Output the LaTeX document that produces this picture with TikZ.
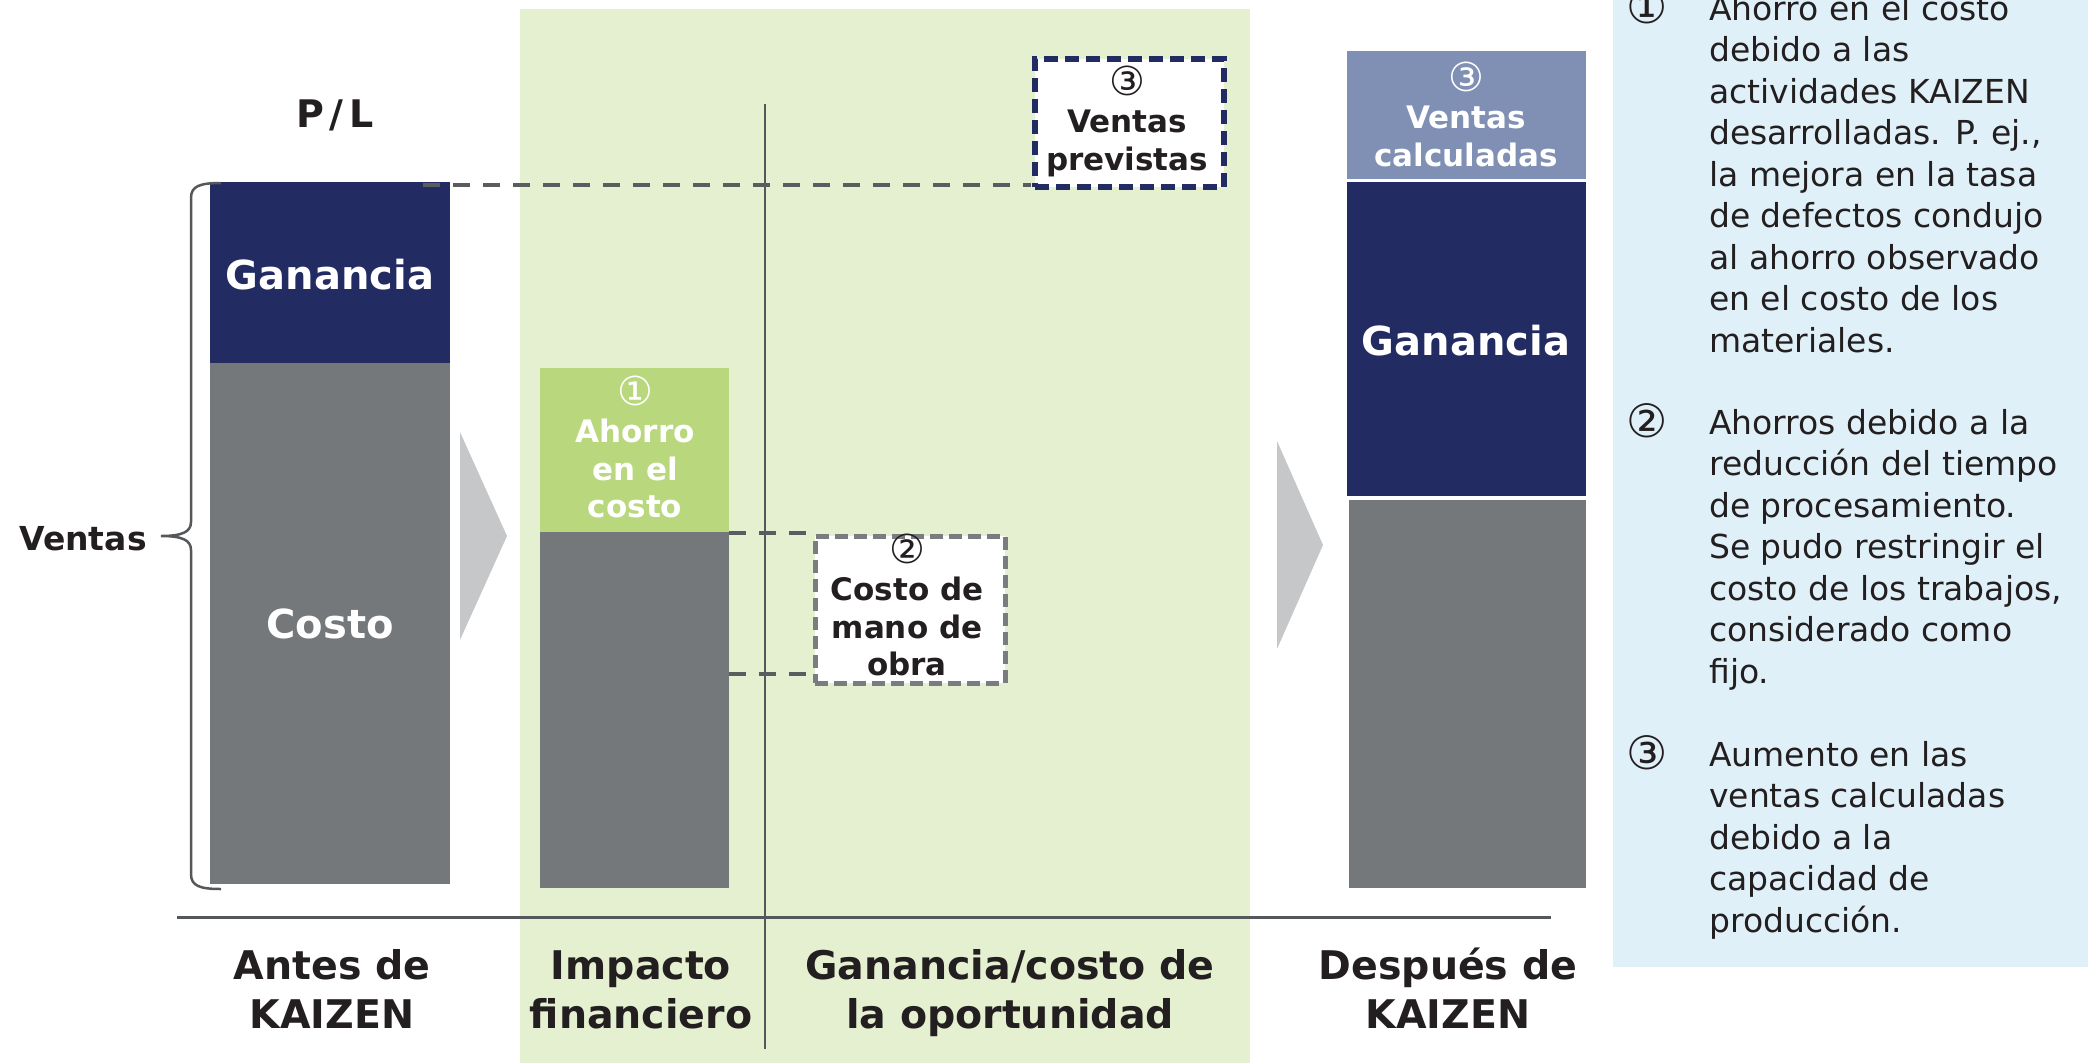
\documentclass[tikz,border=0pt]{standalone}
\usepackage{fontspec}
\setmainfont{DejaVu Sans}
\newfontfamily\circfont{DejaVu Sans}
\newcommand\cnum[1]{{\circfont\mdseries\fontsize{40}{37.5}\selectfont #1}}
\newcommand\ncirc[1]{{\circfont\mdseries\fontsize{46}{41.5}\selectfont\raisebox{-3pt}{#1}}}
\newcommand\mytl[1]{\begin{tabular}[t]{@{}l@{}}#1\end{tabular}}
\newcommand\mytc[1]{\begin{tabular}[t]{@{}c@{}}#1\end{tabular}}
\definecolor{navy}{HTML}{222B62}
\definecolor{bargray}{HTML}{75787A}
\definecolor{lgreen}{HTML}{E5F0D0}
\definecolor{mgreen}{HTML}{B9D87E}
\definecolor{lblue}{HTML}{7F90B4}
\definecolor{panel}{HTML}{E0F0F8}
\definecolor{arrowgray}{HTML}{C6C7C9}
\definecolor{dashgray}{HTML}{5A5D60}
\definecolor{boxgray}{HTML}{7A7D80}
\definecolor{axisgray}{HTML}{55585B}
\definecolor{ink}{HTML}{231F20}
\begin{document}
\begin{tikzpicture}[x=1pt,y=-1pt,
  lbl/.style={font=\bfseries\fontsize{31}{37.5}\selectfont, anchor=base, inner sep=0, text=ink},
  wlbl/.style={lbl, text=white},
  big/.style={font=\bfseries\fontsize{40}{44}\selectfont, anchor=base, inner sep=0, text=white},
  cat/.style={font=\bfseries\fontsize{39.5}{49}\selectfont, anchor=base, inner sep=0, text=ink},
  note/.style={font=\fontsize{33}{41.5}\selectfont, anchor=base west, inner sep=0, text=ink},
  num/.style={font=\fontsize{33}{41.5}\selectfont, anchor=base, inner sep=0, text=ink},
  dashline/.style={draw=dashgray, line width=4pt, dash pattern=on 17pt off 13pt},
  axisline/.style={draw=axisgray, line width=2.5pt},
  bracestyle/.style={draw=axisgray, line width=2.5pt},
  chevron/.style={fill=arrowgray},
]
\useasboundingbox (0,0) rectangle (2098,1063);
% backgrounds
\fill[lgreen] (520,9) rectangle (1250,1063);
\fill[panel] (1613,0) rectangle (2088,967);
% bar 1
\fill[navy] (210,182) rectangle (450,363);
\fill[bargray] (210,363) rectangle (450,884);
% bar 2
\fill[mgreen] (540,368) rectangle (729,532);
\fill[bargray] (540,532) rectangle (729,888);
% bar 3
\fill[lblue] (1347,51) rectangle (1586,179);
\fill[navy] (1347,182) rectangle (1586,496);
\fill[bargray] (1349,500) rectangle (1586,888);
% chevrons
\fill[chevron] (460,432) -- (507,536) -- (460,640) -- cycle;
\fill[chevron] (1277,441) -- (1323,545) -- (1277,649) -- cycle;
% brace
\draw[bracestyle] (221,183) .. controls (200,183) and (191,186) .. (191,198) -- (191,522)
  .. controls (191,532) and (182,536) .. (161,536)
  .. controls (182,536) and (191,540) .. (191,550) -- (191,874)
  .. controls (191,886) and (200,889) .. (221,889);
% axes
\draw[axisline] (765,104) -- (765,1049);
\draw[axisline, line width=3pt] (177,917) -- (1551,917);
% boxes
\coordinate (p1) at (423,185);
\coordinate (q1) at (729,532.5);
\coordinate (q2) at (729,674);
\draw[dashline] (p1) -- (1031,185);
\node[draw=navy, line width=6pt, dash pattern=on 14pt off 7pt, fill=white,
  minimum width=189pt, minimum height=128pt, inner sep=0, anchor=north west] (b3) at (1032,56) {};
\node[draw=boxgray, line width=5pt, dash pattern=on 13pt off 6pt, fill=white,
  minimum width=190pt, minimum height=147pt, inner sep=0, anchor=north west] (b2) at (812.5,533.5) {};
\draw[dashline] (q1) -- ([xshift=-6pt]q1 -| b2.west);
\draw[dashline] (q2) -- ([xshift=-6pt]q2 -| b2.west);
% labels
\node[font=\bfseries\fontsize{38}{44}\selectfont, anchor=base, inner sep=0, text=ink] (pl) at (335,127) {P\kern6pt/\kern6pt L};
\node[font=\bfseries\fontsize{33}{40}\selectfont, anchor=base, inner sep=0, text=ink] (ventas) at (83,550) {Ventas};
\node[big] (gan1) at (330,289) {Ganancia};
\node[big] (cos1) at (330,638) {Costo};
\node[big] (gan3) at (1466,355) {Ganancia};
\node[wlbl] (ahorro) at (635,405) {\mytc{\cnum{①}\\Ahorro\\en el\\costo}};
\node[lbl] (t3) at (1127,95) {\mytc{\cnum{③}\\Ventas\\previstas}};
\node[lbl] (t2) at (907,563) {\mytc{\cnum{②}\\Costo de\\mano de\\obra}};
\node[wlbl] (vc) at (1466,91) {\mytc{\cnum{③}\\Ventas\\calculadas}};
% category labels
\node[cat] (c1) at (332,979) {\mytc{Antes de\\KAIZEN}};
\node[cat] (c2) at (641,979) {\mytc{Impacto\\financiero}};
\node[cat] (c3) at (1010,979) {\mytc{Ganancia/costo de\\la oportunidad}};
\node[cat] (c4) at (1448,979) {\mytc{Después de\\KAIZEN}};
% notes
\node[num] (m1) at (1647,20) {\ncirc{①}};
\node[note] (n1) at (1709,20) {\mytl{Ahorro en el costo\\debido a las\\actividades KAIZEN\\desarrolladas. P. ej.,\\la mejora en la tasa\\de defectos condujo\\al ahorro observado\\en el costo de los\\materiales.}};
\node[num] (m2) at (1647,434) {\ncirc{②}};
\node[note] (n2) at (1709,434) {\mytl{Ahorros debido a la\\reducción del tiempo\\de procesamiento.\\Se pudo restringir el\\costo de los trabajos,\\considerado como\\fijo.}};
\node[num] (m3) at (1647,766) {\ncirc{③}};
\node[note] (n3) at (1709,766) {\mytl{Aumento en las\\ventas calculadas\\debido a la\\capacidad de\\producción.}};
\end{tikzpicture}
\end{document}
